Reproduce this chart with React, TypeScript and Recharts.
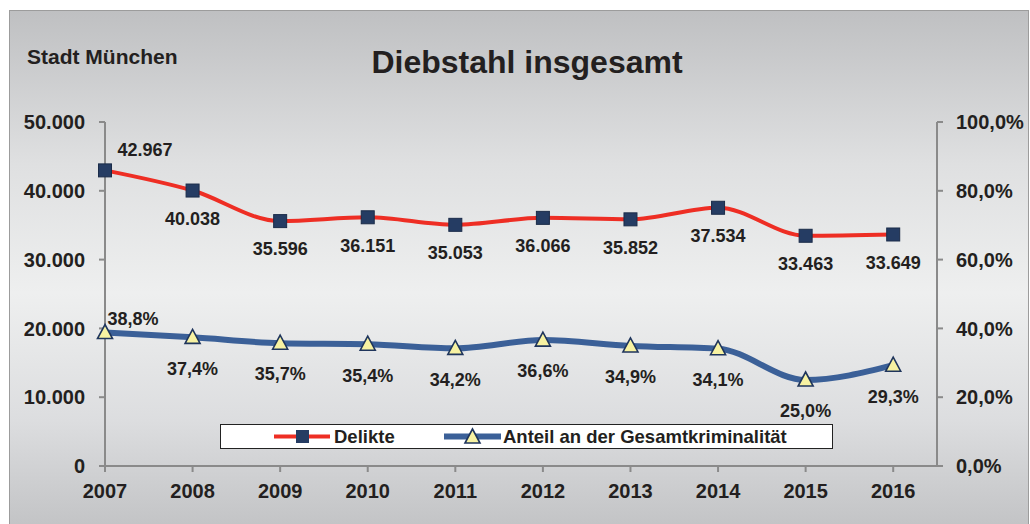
import React from 'react';
import { LineChart, Line, XAxis, YAxis, LabelList } from 'recharts';

const years = [2007, 2008, 2009, 2010, 2011, 2012, 2013, 2014, 2015, 2016];
const delikte = [42967, 40038, 35596, 36151, 35053, 36066, 35852, 37534, 33463, 33649];
const anteil = [38.8, 37.4, 35.7, 35.4, 34.2, 36.6, 34.9, 34.1, 25.0, 29.3];
const leftTicks = [0, 10000, 20000, 30000, 40000, 50000];
const rightTicks = [0, 20, 40, 60, 80, 100];

const data = years.map((year, i) => ({ year, delikte: delikte[i], anteil: anteil[i] }));

const TEXT = '#231f20';
const AXIS = '#8a8a8a';
const FONT = '"Liberation Sans", Arial, sans-serif';

const thousands = (n: number) => String(n).replace(/\B(?=(\d{3})+(?!\d))/g, '.');
const percent = (n: number) => `${n.toFixed(1).replace('.', ',')}%`;

const SquareDot = (props: any) => {
  const { cx, cy, index } = props;
  if (cx == null || cy == null) return null;
  return <rect key={`sq-${index}`} x={cx - 6.5} y={cy - 6.5} width={13} height={13} fill="#253c63" stroke="#1b2c49" strokeWidth={1} />;
};

const TriangleDot = (props: any) => {
  const { cx, cy, index } = props;
  if (cx == null || cy == null) return null;
  return (
    <polygon
      key={`tr-${index}`}
      points={`${cx},${cy - 8} ${cx - 7.5},${cy + 6} ${cx + 7.5},${cy + 6}`}
      fill="#f7f2a2"
      stroke="#1f355c"
      strokeWidth={1.6}
    />
  );
};

// first label sits above/right, the rest below the point
const makeLabel = (fmt: (v: number) => string, first: [number, number], below: number) => (props: any) => {
  const { x, y, value, index } = props;
  const dx = index === 0 ? first[0] : 0;
  const dy = index === 0 ? first[1] : below;
  return (
    <text key={`lb-${index}`} x={x + dx} y={y + dy} dy="0.35em" textAnchor="middle" fontSize={18} fontWeight="bold" fill={TEXT} fontFamily={FONT}>
      {fmt(value)}
    </text>
  );
};

const tickStyle = { fontSize: 20, fontWeight: 'bold', fill: TEXT, fontFamily: FONT } as any;

export default function App() {
  return (
    <div
      style={{
        position: 'absolute',
        left: 9,
        top: 10,
        width: 1020,
        height: 514,
        boxSizing: 'border-box',
        border: '1px solid #9c9c9c',
        borderBottom: 'none',
        background: 'linear-gradient(to bottom, #bfc0c2 0%, #dfe0e1 30%, #eeefef 55%, #dcdddf 80%, #c3c4c6 100%)',
        fontFamily: FONT,
        overflow: 'hidden',
      }}
    >
      <div style={{ position: 'absolute', left: 17, top: 36, fontSize: 21, lineHeight: '20px', fontWeight: 'bold', color: TEXT }}>
        Stadt München
      </div>
      <div style={{ position: 'absolute', left: 0, width: 1018, top: 35, textAlign: 'center', fontSize: 32, lineHeight: '32px', fontWeight: 'bold', color: TEXT }}>
        <span style={{ position: 'relative', left: 8 }}>Diebstahl insgesamt</span>
      </div>

      <LineChart width={1018} height={513} data={data} margin={{ top: 111, right: 0, left: 0, bottom: 18 }}>
        <XAxis
          dataKey="year"
          type="number"
          domain={[2007, 2016.5]}
          ticks={years}
          axisLine={{ stroke: AXIS, strokeWidth: 2 }}
          tickLine={{ stroke: AXIS, strokeWidth: 2 }}
          tickSize={6}
          tickMargin={12}
          height={40}
          tick={tickStyle}
          interval={0}
        />
        <YAxis
          yAxisId="left"
          domain={[0, 50000]}
          ticks={leftTicks}
          width={95}
          tickFormatter={thousands}
          axisLine={{ stroke: AXIS, strokeWidth: 2 }}
          tickLine={{ stroke: AXIS, strokeWidth: 2 }}
          tickSize={6}
          tickMargin={14}
          tick={tickStyle}
          interval={0}
        />
        <YAxis
          yAxisId="right"
          orientation="right"
          domain={[0, 100]}
          ticks={rightTicks}
          width={91}
          tickFormatter={percent}
          axisLine={{ stroke: AXIS, strokeWidth: 2 }}
          tickLine={{ stroke: AXIS, strokeWidth: 2 }}
          tickSize={6}
          tickMargin={13}
          tick={tickStyle}
          interval={0}
        />
        <Line
          yAxisId="left"
          dataKey="delikte"
          type="monotone"
          stroke="#ee2e24"
          strokeWidth={4}
          dot={SquareDot}
          activeDot={false}
          isAnimationActive={false}
        >
          <LabelList dataKey="delikte" content={makeLabel(thousands, [40, -21], 28)} />
        </Line>
        <Line
          yAxisId="right"
          dataKey="anteil"
          type="monotone"
          stroke="#3b6098"
          strokeWidth={6}
          dot={TriangleDot}
          activeDot={false}
          isAnimationActive={false}
        >
          <LabelList dataKey="anteil" content={makeLabel(percent, [28, -14], 31)} />
        </Line>
      </LineChart>

      <div
        style={{
          position: 'absolute',
          left: 210,
          top: 413,
          width: 613,
          height: 25,
          boxSizing: 'border-box',
          border: '1px solid #222',
          background: '#fff',
        }}
      >
        <svg width={613} height={25} style={{ position: 'absolute', left: 0, top: 0 }}>
          <line x1={53} x2={109} y1={11.5} y2={11.5} stroke="#ee2e24" strokeWidth={4} />
          <rect x={75} y={5} width={13} height={13} fill="#253c63" />
          <text x={113} y={18} fontSize={18.5} fontWeight="bold" fill={TEXT} fontFamily={FONT}>Delikte</text>
          <line x1={223} x2={280} y1={11.5} y2={11.5} stroke="#3b6098" strokeWidth={6} />
          <polygon points="251.5,4 244,18 259,18" fill="#f7f2a2" stroke="#1f355c" strokeWidth={1.6} />
          <text x={282} y={18} fontSize={18.5} fontWeight="bold" fill={TEXT} fontFamily={FONT}>Anteil an der Gesamtkriminalität</text>
        </svg>
      </div>
    </div>
  );
}
